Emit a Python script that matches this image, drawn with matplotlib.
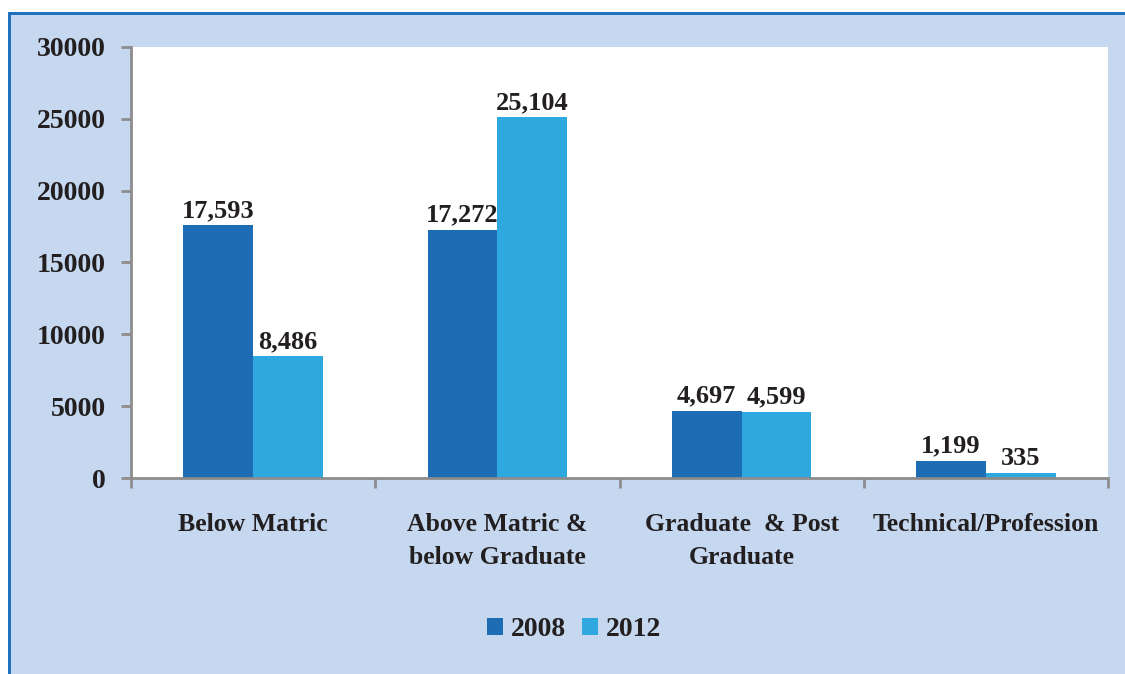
import numpy as np
import matplotlib.pyplot as plt
from matplotlib.patches import Rectangle

# Persons by education level
categories = ['Below Matric', 'Above Matric &\nbelow Graduate',
              'Graduate  & Post\nGraduate', 'Technical/Profession']
values_2008 = [17593, 17272, 4697, 1199]
values_2012 = [8486, 25104, 4599, 335]
yticks = [0, 5000, 10000, 15000, 20000, 25000, 30000]

dark_blue = '#1d6db5'
light_blue = '#2ea8df'
panel_bg = '#c5d8ef'
border = '#1f72c0'
axis_grey = '#8c8c8c'
ink = '#231f20'

plt.rcParams['font.family'] = ['Liberation Serif', 'DejaVu Serif']
plt.rcParams['font.weight'] = 'bold'

fig = plt.figure(figsize=(11.25, 6.74), dpi=100, facecolor='white')
W, H = 1125, 674

# background panel with blue frame on the top and left
fig.patches.append(Rectangle((8 / W, 0), 1 - 8 / W, 1 - 14 / H,
                             transform=fig.transFigure, facecolor=panel_bg,
                             edgecolor='none', zorder=-3))
fig.patches.append(Rectangle((8 / W, 1 - 15 / H), 1 - 8 / W, 3 / H,
                             transform=fig.transFigure, facecolor=border,
                             edgecolor='none', zorder=-2))
fig.patches.append(Rectangle((8 / W, 0), 3 / W, 1 - 12 / H,
                             transform=fig.transFigure, facecolor=border,
                             edgecolor='none', zorder=-2))

ax = fig.add_axes([131 / W, 1 - 478 / H, (1108 - 131) / W, (478 - 47) / H])
ax.set_zorder(2)
ax.set_facecolor('white')

x = np.arange(len(categories))
w = 0.286
b1 = ax.bar(x - w / 2, values_2008, w, color=dark_blue, label='2008', zorder=2)
b2 = ax.bar(x + w / 2, values_2012, w, color=light_blue, label='2012', zorder=2)

for bars, vals in ((b1, values_2008), (b2, values_2012)):
    for rect, v in zip(bars, vals):
        ax.text(rect.get_x() + rect.get_width() / 2, v + 220, f'{v:,}',
                ha='center', va='bottom', fontsize=19, fontweight='bold',
                color=ink)

ax.set_xlim(-0.5, len(categories) - 0.5)
ax.set_ylim(0, 30000)
ax.set_yticks(yticks)
ax.set_yticklabels([str(t) for t in yticks])
ax.set_xticks(x)
ax.set_xticklabels(categories, linespacing=1.55)
ax.set_xticks(np.arange(len(categories) + 1) - 0.5, minor=True)

for s in ('top', 'right'):
    ax.spines[s].set_visible(False)
for s in ('left', 'bottom'):
    ax.spines[s].set_color(axis_grey)
    ax.spines[s].set_linewidth(2)

ax.tick_params(axis='y', length=7, width=2, color=axis_grey, pad=11,
               labelsize=20, labelcolor=ink)
ax.tick_params(axis='x', which='major', length=0, pad=25,
               labelsize=18.5, labelcolor=ink)
ax.tick_params(axis='x', which='minor', length=7, width=2, color=axis_grey)

leg = fig.legend(handles=[b1, b2], loc='center',
                 bbox_to_anchor=(574 / W, 1 - 630 / H),
                 ncol=2, frameon=False, fontsize=20, handlelength=0.58,
                 handleheight=0.58, handletextpad=0.3, columnspacing=0.55)
for t in leg.get_texts():
    t.set_color(ink)

fig.savefig('out.png', dpi=100, facecolor=fig.get_facecolor())
